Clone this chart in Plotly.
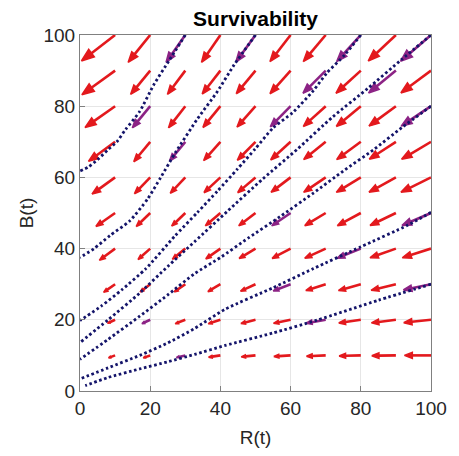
import plotly.graph_objects as go

# ---------------- data ----------------
R_GRID = [10, 20, 30, 40, 50, 60, 70, 80, 90, 100]
B_GRID = [10, 20, 30, 40, 50, 60, 70, 80, 90, 100]

# arrow components (data units), rows = B_GRID, cols = R_GRID
U = [
    [-1.9, -2.0, -2.6, -3.4, -4.1, -4.8, -5.5, -6.2, -6.9, -7.6],
    [-2.2, -2.4, -2.9, -3.5, -4.2, -4.9, -5.6, -6.3, -7.0, -7.8],
    [-3.3, -2.9, -3.2, -3.6, -4.3, -5.0, -5.7, -6.4, -7.1, -7.9],
    [-4.5, -3.5, -3.7, -4.2, -4.7, -5.3, -6.0, -6.8, -7.4, -8.2],
    [-5.5, -4.0, -3.9, -4.3, -4.8, -5.4, -6.0, -6.7, -7.4, -8.3],
    [-6.6, -4.5, -4.3, -4.7, -5.1, -5.6, -6.3, -7.0, -7.7, -8.6],
    [-7.6, -4.7, -4.5, -4.8, -5.2, -5.7, -6.3, -6.9, -7.6, -8.4],
    [-8.6, -5.1, -4.8, -5.0, -5.3, -5.8, -6.4, -7.0, -7.7, -8.5],
    [-9.5, -5.6, -5.1, -5.2, -5.5, -5.9, -6.5, -7.1, -7.8, -8.6],
    [-9.6, -6.3, -5.5, -5.4, -5.6, -5.9, -6.4, -6.9, -7.9, -8.7],
]
V = [
    [-0.7, -0.7, -0.6, -0.5, -0.4, -0.3, -0.25, -0.15, -0.1, 0.0],
    [-1.0, -1.1, -1.1, -1.1, -1.05, -1.0, -0.95, -0.9, -0.85, -0.8],
    [-2.3, -2.2, -2.2, -2.1, -2.0, -1.9, -1.8, -1.8, -1.7, -1.6],
    [-3.3, -3.1, -3.0, -2.9, -2.8, -2.75, -2.7, -2.7, -2.6, -2.6],
    [-3.8, -3.8, -3.7, -3.6, -3.6, -3.6, -3.6, -3.6, -3.5, -3.5],
    [-4.7, -4.6, -4.5, -4.3, -4.3, -4.2, -4.2, -4.2, -4.2, -4.2],
    [-5.5, -5.6, -5.4, -5.3, -5.2, -5.1, -5.0, -5.0, -4.9, -4.9],
    [-6.0, -6.1, -6.1, -6.0, -5.9, -5.8, -5.7, -5.7, -5.6, -5.6],
    [-6.8, -6.7, -6.7, -6.6, -6.5, -6.5, -6.4, -6.4, -6.3, -6.3],
    [-7.3, -7.7, -7.7, -7.7, -7.6, -7.5, -7.5, -7.5, -7.3, -7.4],
]

# arrows that show up purple (they lie along a trajectory)
PURPLE_PTS = [(30, 100), (50, 100), (80, 100), (100, 100), (100, 80),
              (100, 50), (100, 30), (20, 80), (30, 70), (60, 80), (70, 90),
              (90, 90), (60, 50), (80, 40), (60, 30), (70, 20), (20, 20),
              (30, 10)]

# trajectories (R, B)
TRAJ_R = [
    [30, 25.5, 21, 17, 13, 10.5, 8, 5, 2.5, 0],
    [50, 43.9, 39.2, 33.5, 27.2, 23, 19.3, 14.2, 8.6, 4, 0],
    [80, 75.4, 70.3, 66.5, 60.6, 55, 49.9, 44.8, 39.2, 33.5, 27, 18.8, 12, 6, 0],
    [100, 91.5, 82, 72, 62, 52, 42, 32.7, 25, 17, 8, 0],
    [100, 91.7, 83.8, 75, 66.5, 57, 48, 40, 32.7, 25, 17, 8, 0],
    [100, 93.4, 80, 66.5, 55, 41.4, 32.7, 25, 17, 8, 0],
    [100, 85, 67.5, 55, 41.4, 32.7, 25, 17, 8, 1.5],
]
TRAJ_B = [
    [100, 93, 86, 78.5, 73.5, 70, 67.8, 65, 63, 61.8],
    [100, 91.6, 84.2, 76.5, 67, 60, 54, 47.8, 43.7, 40, 37.5],
    [100, 94.4, 89.3, 84.4, 78.2, 73.9, 68, 62.3, 56.2, 50.2, 43.5, 34.4, 28.5, 23.8, 19.8],
    [100, 93, 85, 77, 68, 59.5, 50.5, 42, 35, 27.5, 20, 13.6],
    [80, 74, 67.9, 61.8, 55.6, 49, 43, 37.5, 33, 27, 21, 14.5, 8.9],
    [50.2, 46.6, 40.5, 34.4, 29, 23, 17.6, 13.5, 10, 6.5, 3.4],
    [30, 25.5, 19.9, 16.3, 12.8, 10.3, 8.2, 6.2, 3.8, 1.5],
]

TICKS = [0, 20, 40, 60, 80, 100]

# ---------------- build arrows ----------------
HEAD_LEN, HEAD_HALF = 0.30, 0.11
groups = {"red": ([], [], [], []), "purple": ([], [], [], [])}
for i, b in enumerate(B_GRID):
    for j, r in enumerate(R_GRID):
        key = "purple" if (r, b) in PURPLE_PTS else "red"
        sx, sy, hx, hy = groups[key]
        u, v = U[i][j], V[i][j]
        tx, ty = r + u, b + v
        bx, by = tx - HEAD_LEN * u, ty - HEAD_LEN * v
        sx += [r, bx, None]
        sy += [b, by, None]
        px, py = -v * HEAD_HALF, u * HEAD_HALF
        hx += [tx, bx + px, bx - px, tx, None]
        hy += [ty, by + py, by - py, ty, None]

COLORS = {"red": "#e3191d", "purple": "#8c2385"}
fig = go.Figure()
for key in ["red", "purple"]:
    sx, sy, hx, hy = groups[key]
    c = COLORS[key]
    fig.add_trace(go.Scatter(x=sx, y=sy, mode="lines",
                             line=dict(color=c, width=2.6),
                             hoverinfo="skip", showlegend=False))
    fig.add_trace(go.Scatter(x=hx, y=hy, mode="lines", fill="toself",
                             fillcolor=c, line=dict(color=c, width=1.5),
                             hoverinfo="skip", showlegend=False))

for rr, bb in zip(TRAJ_R, TRAJ_B):
    fig.add_trace(go.Scatter(x=rr, y=bb, mode="lines",
                             line=dict(color="#14146a", width=2.8,
                                       dash="2.6px,2.6px", shape="spline",
                                       smoothing=0.6),
                             hoverinfo="skip", showlegend=False))

FONT = "Liberation Sans, Arial, Helvetica, sans-serif"
axis_common = dict(range=[0, 100], tickvals=TICKS, showgrid=True,
                   gridcolor="#e6e6e6", gridwidth=1, zeroline=False,
                   showline=True, mirror=True, linecolor="#808080",
                   linewidth=1, ticks="inside", ticklen=5,
                   tickcolor="#808080",
                   tickfont=dict(family=FONT, size=19, color="#262626"))

fig.update_layout(
    width=459, height=456,
    margin=dict(l=80, r=19, t=35, b=63),
    paper_bgcolor="white", plot_bgcolor="white",
    title=dict(text="<b>Survivability</b>", x=0.5, xanchor="center",
               xref="paper", y=1 - 19 / 456, yref="container",
               yanchor="middle",
               font=dict(family=FONT, size=21, color="#000000")),
    xaxis=dict(**axis_common,
               title=dict(text="R(t)", standoff=12,
                          font=dict(family=FONT, size=19, color="#262626"))),
    yaxis=dict(**axis_common,
               title=dict(text="B(t)", standoff=4,
                          font=dict(family=FONT, size=19, color="#262626"))),
)

fig.write_html("out.html")
